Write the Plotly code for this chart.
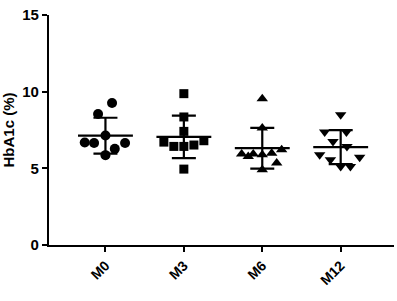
import numpy as np
import plotly.graph_objects as go

categories = ["M0", "M3", "M6", "M12"]
m0 = [9.26, 8.54, 7.14, 6.69, 6.65, 6.65, 6.27, 5.86]
m3 = [9.87, 8.35, 7.41, 6.71, 6.80, 6.43, 6.43, 6.52, 4.95]
m6 = [9.54, 7.63, 5.93, 5.77, 5.93, 5.88, 5.99, 6.21, 5.34, 4.90]
m12 = [8.50, 7.37, 7.37, 6.75, 6.43, 5.88, 5.56, 5.12, 5.12, 5.73]
# horizontal scatter spread of the points within each group (category units)
spread0 = [0.084, -0.094, 0, -0.264, -0.145, 0.25, 0.119, 0]
spread3 = [0, 0, 0, -0.255, 0.255, -0.128, 0, 0.128, 0]
spread6 = [0, 0, -0.263, -0.179, -0.115, 0, 0.12, 0.247, 0.184, 0]
spread12 = [0, -0.204, 0.073, -0.098, 0.08, -0.268, -0.131, 0, 0.124, 0.242]
y_ticks = [0, 5, 10, 15]

groups = [m0, m3, m6, m12]
spreads = [spread0, spread3, spread6, spread12]
symbols = ["circle", "square", "triangle-up", "triangle-down"]
sizes = [10, 9, 10, 10]

fig = go.Figure()
FONT = "Arial, Liberation Sans, sans-serif"

for i, (vals, sp, sym, sz) in enumerate(zip(groups, spreads, symbols, sizes)):
    v = np.array(vals)
    mean = v.mean()
    sd = v.std(ddof=1)
    # mean line
    fig.add_trace(go.Scatter(x=[i - 0.35, i + 0.35], y=[mean, mean], mode="lines",
                             line=dict(color="black", width=2.2), showlegend=False,
                             hoverinfo="skip"))
    # SD error bar
    fig.add_trace(go.Scatter(x=[i], y=[mean], mode="markers",
                             marker=dict(size=1, color="rgba(0,0,0,0)"),
                             error_y=dict(type="data", array=[sd], visible=True,
                                          color="black", thickness=2.2, width=12),
                             showlegend=False, hoverinfo="skip"))
    # points
    fig.add_trace(go.Scatter(x=[i + s for s in sp], y=v, mode="markers",
                             marker=dict(symbol=sym, size=sz, color="black",
                                         line=dict(width=0)),
                             showlegend=False))

fig.update_layout(
    width=397, height=301,
    margin=dict(l=49, r=3, t=15, b=56),
    paper_bgcolor="white", plot_bgcolor="white",
    font=dict(family=FONT, color="black"),
)
fig.update_xaxes(
    range=[-0.72, 3.68], tickmode="array", tickvals=list(range(len(categories))),
    ticktext=["<b>%s</b>" % c for c in categories], tickangle=-45,
    showline=True, linecolor="black", linewidth=2.2, ticks="outside",
    ticklen=5, tickwidth=2, tickcolor="black", showgrid=False, zeroline=False,
    tickfont=dict(size=14, family=FONT),
)
fig.update_yaxes(
    range=[0, 15], tickmode="array", tickvals=y_ticks,
    ticktext=["<b>%d</b>" % t for t in y_ticks],
    showline=True, linecolor="black", linewidth=2.2, ticks="outside",
    ticklen=5, tickwidth=2, tickcolor="black", showgrid=False, zeroline=False,
    tickfont=dict(size=15, family=FONT),
    title=dict(text="<b>HbA1c (%)</b>", font=dict(size=15, family=FONT), standoff=4),
)
fig.write_html("out.html")
